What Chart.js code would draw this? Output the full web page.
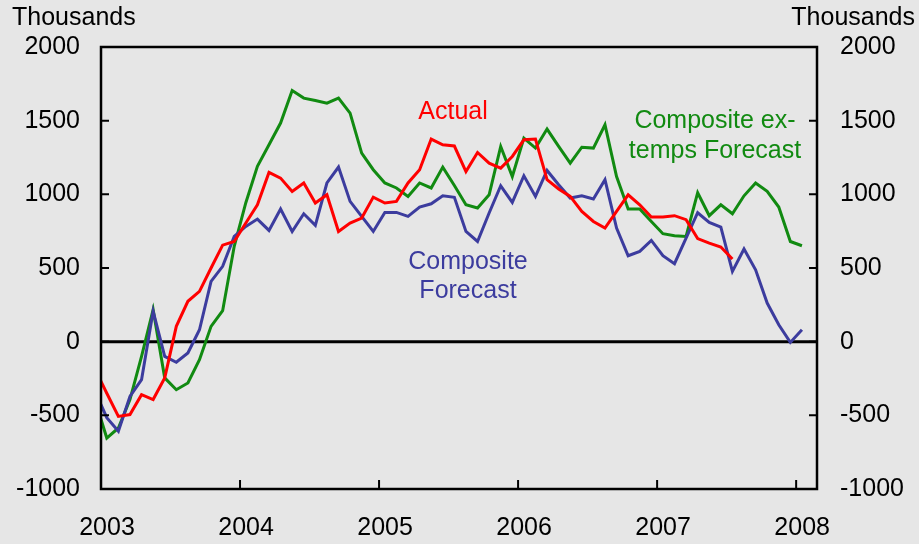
<!DOCTYPE html>
<html>
<head>
<meta charset="utf-8">
<script src="https://cdn.jsdelivr.net/npm/chart.js@4/dist/chart.umd.min.js"></script>
<style>
  html, body { margin: 0; padding: 0; background: #e6e6e6; }
  canvas { display: block; }
</style>
</head>
<body>
<canvas id="c" width="919" height="544"></canvas>
<script>
// ---- Data (monthly, first value = Dec 2002) ----
const startYear = 2003;
const firstMonthIndex = -1; // Dec 2002
const actual = [
  -190, -350, -507, -495, -360, -393, -246, 104, 274, 341, 500, 655,
  680, 805, 929, 1149, 1110, 1020, 1077, 941, 997, 748, 805, 839,
  981, 941, 952, 1077, 1167, 1375, 1336, 1328, 1155, 1284, 1212, 1178,
  1257, 1370, 1375, 1099, 1036, 986, 884, 816, 771, 884, 997, 929,
  846, 846, 855, 828, 700, 669, 642, 561
];
const compositeForecast = [
  -340, -516, -608, -371, -258, 206, -100, -140, -77, 81, 409, 511,
  714, 782, 832, 755, 900, 748, 868, 789, 1077, 1185, 952, 850,
  748, 877, 877, 850, 914, 936, 990, 980, 748, 680, 873, 1058,
  945, 1126, 986, 1162, 1065, 975, 990, 968, 1099, 771, 583, 613,
  687, 583, 529, 703, 875, 810, 778, 477, 629, 488, 262, 115,
  -5, 81
];
const exTempsForecast = [
  -400, -654, -586, -393, -100, 217, -246, -326, -280, -122, 104, 210,
  647, 943, 1190, 1336, 1484, 1705, 1653, 1637, 1619, 1653, 1551, 1280,
  1167, 1077, 1043, 986, 1077, 1043, 1185, 1060, 929, 907, 997, 1325,
  1121, 1382, 1314, 1443, 1325, 1212, 1320, 1314, 1472, 1121, 900, 900,
  816, 733, 719, 714, 1011, 855, 929, 868, 990, 1077, 1020, 914,
  680, 651
];
const yearLabels = ['2003', '2004', '2005', '2006', '2007', '2008'];
const valueTicks = [-1000, -500, 0, 500, 1000, 1500, 2000];

const toPoints = arr => arr.map((v, i) => ({ x: startYear + (i + firstMonthIndex + 0.5) / 12, y: v }));

const FONT = '"Liberation Sans", Arial, sans-serif';
const RED = '#ff0000', BLUE = '#3c3c9e', GREEN = '#118a11';

const framePlugin = {
  id: 'frame',
  beforeDraw(chart) {
    const ctx = chart.ctx;
    ctx.save();
    ctx.fillStyle = '#e6e6e6';
    ctx.fillRect(0, 0, chart.width, chart.height);
    ctx.restore();
  },
  beforeDatasetsDraw(chart) {
    const { ctx, chartArea: a, scales } = chart;
    const y0 = scales.y.getPixelForValue(0);
    ctx.save();
    ctx.strokeStyle = '#000';
    ctx.lineWidth = 3;
    ctx.beginPath();
    ctx.moveTo(a.left, y0);
    ctx.lineTo(a.right, y0);
    ctx.stroke();
    ctx.restore();
  },
  afterDatasetsDraw(chart) {
    const { ctx, chartArea: a, scales } = chart;
    ctx.save();
    ctx.strokeStyle = '#000';
    ctx.lineWidth = 2.5;
    ctx.strokeRect(a.left, a.top, a.right - a.left, a.bottom - a.top);
    ctx.lineWidth = 2;
    ctx.beginPath();
    valueTicks.forEach(v => {
      const py = scales.y.getPixelForValue(v);
      ctx.moveTo(a.left, py); ctx.lineTo(a.left + 8, py);
      ctx.moveTo(a.right, py); ctx.lineTo(a.right - 8, py);
    });
    yearLabels.forEach(l => {
      const px = scales.x.getPixelForValue(+l);
      ctx.moveTo(px, a.bottom); ctx.lineTo(px, a.bottom - 9);
    });
    ctx.stroke();

    ctx.font = '25px ' + FONT;
    ctx.textBaseline = 'middle';
    ctx.fillStyle = '#000';
    ctx.textAlign = 'left';
    ctx.fillText('Thousands', 12, 18);
    ctx.textAlign = 'right';
    ctx.fillText('Thousands', 915, 18);

    ctx.textAlign = 'center';
    ctx.fillStyle = RED;
    ctx.fillText('Actual', 453, 112);
    ctx.fillStyle = BLUE;
    ctx.fillText('Composite', 468, 262);
    ctx.fillText('Forecast', 468, 291);
    ctx.fillStyle = GREEN;
    ctx.fillText('Composite ex-', 715, 121);
    ctx.fillText('temps Forecast', 715, 151);
    ctx.restore();
  }
};

const yAxisCommon = {
  type: 'linear',
  min: -1000,
  max: 2000,
  afterBuildTicks: s => { s.ticks = valueTicks.map(v => ({ value: v })); },
  grid: { display: false, drawTicks: false },
  border: { display: false },
  ticks: { color: '#000', font: { family: FONT, size: 25 }, callback: v => String(v) }
};

new Chart(document.getElementById('c'), {
  type: 'line',
  data: {
    datasets: [
      { label: 'Actual', data: toPoints(actual), borderColor: RED },
      { label: 'Composite Forecast', data: toPoints(compositeForecast), borderColor: BLUE },
      { label: 'Composite ex-temps Forecast', data: toPoints(exTempsForecast), borderColor: GREEN }
    ]
  },
  options: {
    responsive: false,
    animation: false,
    devicePixelRatio: 1,
    layout: { padding: { top: 47, left: 0, right: 0, bottom: 0 } },
    elements: {
      point: { radius: 0 },
      line: { borderWidth: 3, tension: 0, fill: false }
    },
    plugins: { legend: { display: false }, tooltip: { enabled: false } },
    scales: {
      x: {
        type: 'linear',
        min: 2003,
        max: 2008.15,
        afterBuildTicks: s => { s.ticks = yearLabels.map(l => ({ value: +l })); },
        afterFit: s => { s.height = 55; },
        grid: { display: false, drawTicks: false },
        border: { display: false },
        ticks: {
          color: '#000',
          font: { family: FONT, size: 25 },
          padding: 24,
          labelOffset: 6,
          maxRotation: 0,
          autoSkip: false,
          callback: v => yearLabels.find(l => +l === v) || ''
        }
      },
      y: Object.assign({}, yAxisCommon, {
        position: 'left',
        afterFit: s => { s.width = 101; },
        ticks: Object.assign({}, yAxisCommon.ticks, { padding: 21 })
      }),
      y2: Object.assign({}, yAxisCommon, {
        position: 'right',
        afterFit: s => { s.width = 102; },
        ticks: Object.assign({}, yAxisCommon.ticks, { padding: 23 })
      })
    }
  },
  plugins: [framePlugin]
});
</script>
</body>
</html>
